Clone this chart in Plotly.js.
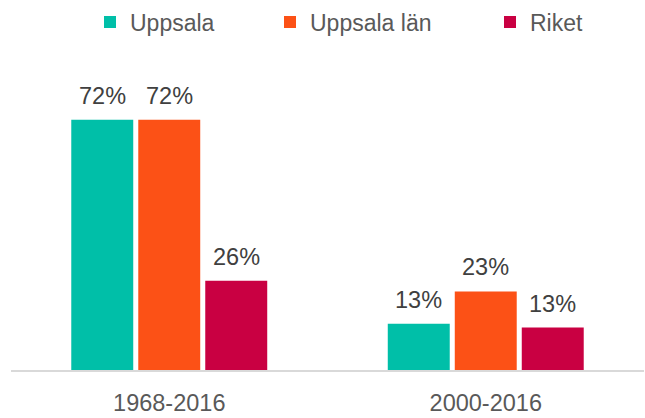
<!DOCTYPE html>
<html>
<head>
<meta charset="utf-8">
<script src="https://cdn.plot.ly/plotly-3.0.1.min.js"></script>
<style>html,body{margin:0;padding:0;background:#fff}#chart{width:645px;height:418px}</style>
</head>
<body>
<div id="chart"></div>
<script>
const categories = ["1968-2016", "2000-2016"];
const seriesNames = ["Uppsala", "Uppsala län", "Riket"];
const uppsala = [72, 13.3];
const uppsalaLan = [72, 22.6];
const riket = [25.7, 12.2];
const uppsalaLabels = ["72%", "13%"];
const uppsalaLanLabels = ["72%", "23%"];
const riketLabels = ["26%", "13%"];
const colors = ["#00BFA8", "#FC5116", "#C90042"];

const values = [uppsala, uppsalaLan, riket];
const labels = [uppsalaLabels, uppsalaLanLabels, riketLabels];
const legendIds = ["legend", "legend2", "legend3"];
const FONT = "Liberation Sans, Arial, sans-serif";

const bargap = 0.365;
const slot = (1 - bargap) / seriesNames.length;

const traces = seriesNames.map((n, i) => ({
  type: "bar",
  name: n,
  x: categories,
  y: values[i],
  marker: {color: colors[i]},
  legend: legendIds[i],
  hoverinfo: "none"
}));

const annotations = [];
values.forEach((vals, i) => {
  vals.forEach((v, j) => {
    annotations.push({
      x: j + (i - (seriesNames.length - 1) / 2) * slot,
      y: v,
      xref: "x", yref: "y",
      text: labels[i][j],
      showarrow: false,
      xanchor: "center", yanchor: "bottom",
      yshift: 9,
      font: {family: FONT, size: 23.5, color: "#404040"}
    });
  });
});

const legendX = [90, 270, 490];
const legendBase = {
  orientation: "h", xref: "container", yref: "container",
  y: 1 - 22 / 418, yanchor: "middle", xanchor: "left",
  font: {family: FONT, size: 23, color: "#595959"},
  bgcolor: "rgba(0,0,0,0)", itemwidth: 30
};

const layout = {
  width: 645, height: 418,
  margin: {l: 11, r: 1, t: 92, b: 48},
  paper_bgcolor: "#fff", plot_bgcolor: "#fff",
  barmode: "group",
  bargap: bargap,
  bargroupgap: 0.075,
  font: {family: FONT, color: "#595959"},
  xaxis: {
    type: "category",
    showgrid: false, zeroline: false, showline: true, linecolor: "#D9D9D9", linewidth: 1.5,
    ticks: "", ticklabelstandoff: 11,
    tickfont: {family: FONT, size: 23.5, color: "#595959"}
  },
  yaxis: {range: [0, 80], visible: false, showgrid: false, zeroline: false},
  showlegend: true,
  legend: Object.assign({}, legendBase, {x: legendX[0] / 645}),
  legend2: Object.assign({}, legendBase, {x: legendX[1] / 645}),
  legend3: Object.assign({}, legendBase, {x: legendX[2] / 645}),
  annotations: annotations
};

Plotly.newPlot("chart", traces, layout, {displayModeBar: false, staticPlot: true});
</script>
</body>
</html>
